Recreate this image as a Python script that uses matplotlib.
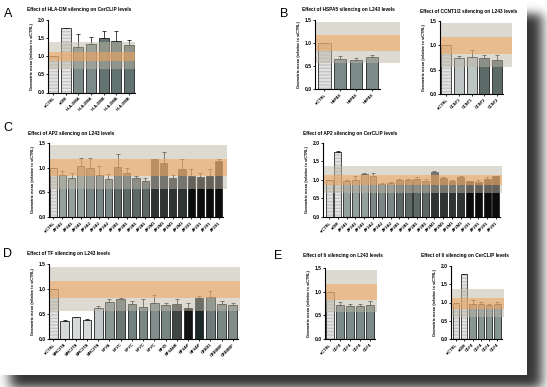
import math
import numpy as np
import matplotlib
matplotlib.use("Agg")
import matplotlib.pyplot as plt

W, H = 547, 387
plt.rcParams['font.family'] = ['Liberation Sans', 'DejaVu Sans']

# ---- data ----
A_labels = ["siCTRL", "siDM", "HLA-DMA", "HLA-DMA", "HLA-DMB", "HLA-DMB", "HLA-DMB"]
A_vals = [1.0, 1.77, 1.25, 1.33, 1.51, 1.42, 1.30]
A_err = [0, 0.02, 0.36, 0.19, 0.20, 0.29, 0.14]

B_labels = ["siCTRL", "HSPA5", "HSPA5", "HSPA5"]
B_vals = [1.0, 0.66, 0.63, 0.69]
B_err = [0, 0.05, 0.05, 0.06]

B2_labels = ["siCTRL", "CCNT1", "CCNT1", "CCNT2", "CCNT2"]
B2_vals = [1.0, 0.75, 0.76, 0.73, 0.70]
B2_err = [0, 0.03, 0.14, 0.07, 0.10]

AP2 = ["AP2A1"]*3 + ["AP2A2"]*3 + ["AP2B1"]*4 + ["AP2M1"]*4 + ["AP2S1"]*4
C1_labels = ["siCTRL"] + AP2
C1_vals = [1.0, 0.85, 0.80, 1.04, 1.00, 0.86, 0.78, 1.02, 0.90, 0.80,
           0.72, 1.17, 1.10, 0.79, 0.98, 0.84, 0.81, 0.83, 1.13]
C1_err = [0, 0.08, 0.10, 0.15, 0.19, 0.17, 0.10, 0.25, 0.10, 0.04,
          0.08, 0.01, 0.22, 0.07, 0.20, 0.14, 0.08, 0.15, 0.05]

C2_labels = ["siCTRL", "siDM"] + AP2
C2_vals = [1.0, 1.76, 0.97, 1.00, 1.16, 1.10, 0.88, 0.93, 1.00, 1.00,
           1.04, 0.97, 1.21, 1.05, 0.97, 1.08, 0.96, 0.94, 1.02, 1.10]
C2_err = [0, 0.02, 0.03, 0.10, 0.03, 0.10, 0.05, 0.02, 0.02, 0.02,
          0.04, 0.05, 0.02, 0.03, 0.02, 0.02, 0.02, 0.05, 0.05, 0.02]

D_labels = ["siCTRL", "MHC2TA", "MHC2TA", "MHC2TA", "MHC2TA", "NFYA", "NFYC",
            "NFYC", "NFYC", "NFYC", "RFX5", "RFXANK", "RFXAP", "RFXAP",
            "CREB1", "CREBBP", "CREBBP"]
D_vals = [1.0, 0.36, 0.44, 0.39, 0.63, 0.74, 0.81, 0.71, 0.65, 0.73,
          0.69, 0.71, 0.63, 0.82, 0.84, 0.71, 0.69]
D_err = [0, 0.02, 0.01, 0.01, 0.03, 0.06, 0.01, 0.06, 0.15, 0.16,
         0.03, 0.09, 0.09, 0.04, 0.13, 0.06, 0.04]

E_labels = ["siCTRL", "CD74", "CD74", "CD74", "CD74"]
E_vals = [1.0, 0.71, 0.70, 0.69, 0.71]
E_err = [0, 0.08, 0.05, 0.06, 0.09]

E2_labels = ["siCTRL", "siDM", "CD74", "CD74", "CD74", "CD74"]
E2_vals = [1.0, 1.77, 0.95, 0.95, 0.92, 0.95]
E2_err = [0, 0.02, 0.11, 0.06, 0.04, 0.07]

# ---- colours ----
CTRL = "#e2e2e2"
DM = "#e6e6e6"
A_colors = [CTRL, DM, "#7c8b89", "#7c8b89", "#637371", "#637371", "#637371"]
B_colors = [CTRL] + ["#7c8b89"]*3
B2_colors = [CTRL, "#bcc5c3", "#bcc5c3", "#5c6a68", "#5c6a68"]
AP2_colors = ["#93a09e"]*3 + ["#7a8786"]*3 + ["#5c6967"]*4 + ["#2e3534"]*4 + ["#0b0d0d"]*4
C1_colors = [CTRL] + AP2_colors
C2_colors = [CTRL, DM] + AP2_colors
D_colors = [CTRL, "#d6dad9", "#d6dad9", "#d6dad9", "#c3c9c8", "#8b9795", "#6a7775",
            "#738180", "#7a8785", "#808d8b", "#778583", "#404646", "#121212",
            "#1e2a2a", "#707c7a", "#7b8886", "#808d8b"]
E_colors = [CTRL] + ["#7c8b89"]*4
E2_colors = [CTRL, DM] + ["#879593"]*4

GRAY_L243, ORANGE_L243 = (0.56, 1.45), (0.83, 1.17)
GRAY_CER, ORANGE_CER = (0.64, 1.39), (0.86, 1.13)

fig = plt.figure(figsize=(W/100, H/100), dpi=100)

# paper drop shadow (decoration only)
verf = np.vectorize(math.erf)
def soft(x, a, b, s):
    return 0.5*(verf((x-a)/(s*math.sqrt(2))) - verf((x-b)/(s*math.sqrt(2))))
xx = np.arange(W) + 0.5
yy = np.arange(H) + 0.5
sh = np.outer(soft(yy, 14, 388, 5.0), soft(xx, 10, 542, 6.0)) * 0.8
rgba = np.zeros((H, W, 4))
rgba[..., 3] = sh
rgba[:375, :527, :] = 1.0
bg = fig.add_axes([0, 0, 1, 1], zorder=-10)
bg.imshow(rgba, extent=[0, W, H, 0], interpolation="bilinear", aspect="auto")
bg.set_xlim(0, W); bg.set_ylim(H, 0); bg.axis("off")


def panel(box, xl, xr, ymax, labels, vals, errs, colors, gray, orange, title, tpos):
    l, t, r, b = box
    ax = fig.add_axes([l/W, 1-b/H, (r-l)/W, (b-t)/H])
    x = np.arange(len(vals))
    for i in range(len(vals)):
        if labels[i] in ("siCTRL", "siDM"):
            ax.bar(x[i], vals[i], 0.78, color=colors[i], hatch="-----",
                   edgecolor="#c4c4c4", linewidth=0, zorder=2)
            ax.bar(x[i], vals[i], 0.78, fill=False, edgecolor="#2a2a2a",
                   linewidth=0.6, zorder=2.5)
        else:
            ax.bar(x[i], vals[i], 0.78, color=colors[i], edgecolor="#222222",
                   linewidth=0.6, zorder=2)
    ax.errorbar(x, vals, yerr=[np.zeros(len(errs)), errs], fmt="none",
                ecolor="#222222", elinewidth=0.6, capsize=1.4, capthick=0.6, zorder=3)
    ax.axhspan(*gray, color="#bdb7a7", alpha=0.5, lw=0, zorder=5)
    ax.axhspan(*orange, color="#f4a45a", alpha=0.55, lw=0, zorder=6)
    ax.set_xlim(xl, xr)
    ax.set_ylim(0, ymax)
    ax.patch.set_alpha(0)
    for s in ("top", "right"):
        ax.spines[s].set_visible(False)
    for s in ("left", "bottom"):
        ax.spines[s].set_linewidth(0.8)
        ax.spines[s].set_zorder(7)
    ax.spines["bottom"].set_bounds(xl, len(vals) - 0.5)
    ticks = np.arange(0, ymax + 0.01, 0.5)
    ax.set_yticks(ticks)
    ax.set_yticklabels(["%.1f" % v for v in ticks], fontsize=3.6, fontweight="bold")
    ax.set_xticks(x)
    ax.set_xticklabels(labels, rotation=45, ha="right", rotation_mode="anchor",
                       fontsize=2.9, fontweight="bold")
    ax.tick_params(axis="both", length=1.6, width=0.6, pad=1)
    fig.text((l - 16)/W, 1 - (t + b)/2/H, "Geometric mean (relative to siCTRL)",
             rotation=90, ha="center", va="center", fontsize=2.8, fontweight="bold")
    fig.text(tpos[0]/W, 1 - tpos[1]/H, title, ha="left", va="center",
             fontsize=3.4, fontweight="bold")
    return ax


panel((48, 20, 135, 92.5), -0.4, 6.47, 2.0, A_labels, A_vals, A_err, A_colors,
      GRAY_CER, ORANGE_CER, "Effect of HLA-DM silencing on CerCLIP levels", (27, 10))
panel((315, 20, 400, 89), -0.6, 4.8, 1.5, B_labels, B_vals, B_err, B_colors,
      GRAY_L243, ORANGE_L243, "Effect of HSPA5 silencing on L243 levels", (302, 10))
panel((440, 21, 512, 94), -0.5, 5.2, 1.5, B2_labels, B2_vals, B2_err, B2_colors,
      GRAY_L243, ORANGE_L243, "Effect of CCNT1/2 silencing on L243 levels", (420, 12))
panel((49, 143, 227, 217), -0.45, 18.9, 1.5, C1_labels, C1_vals, C1_err, C1_colors,
      GRAY_L243, ORANGE_L243, "Effect of AP2 silencing on L243 levels", (28, 133))
panel((323, 143, 502, 217), -0.7, 19.7, 2.0, C2_labels, C2_vals, C2_err, C2_colors,
      GRAY_CER, ORANGE_CER, "Effect of AP2 silencing on CerCLIP levels", (303, 134))
panel((49, 264, 240, 339), -0.4, 16.65, 1.5, D_labels, D_vals, D_err, D_colors,
      GRAY_L243, ORANGE_L243, "Effect of TF silencing on L243 levels", (27, 254))
panel((325, 268, 377, 339), -0.5, 4.7, 1.5, E_labels, E_vals, E_err, E_colors,
      GRAY_L243, ORANGE_L243, "Effect of Ii silencing on L243 levels", (303, 255))
panel((451, 266, 504, 339), -0.6, 5.8, 2.0, E2_labels, E2_vals, E2_err, E2_colors,
      (0.60, 1.36), (0.82, 1.12), "Effect of Ii silencing on CerCLIP levels", (421, 255))

for letter, px, py in [("A", 8, 14), ("B", 284, 14), ("C", 8, 128),
                       ("D", 8, 254), ("E", 278, 256)]:
    fig.text(px/W, 1 - py/H, letter, ha="center", va="center", fontsize=9)

fig.savefig("out.png", dpi=100)
